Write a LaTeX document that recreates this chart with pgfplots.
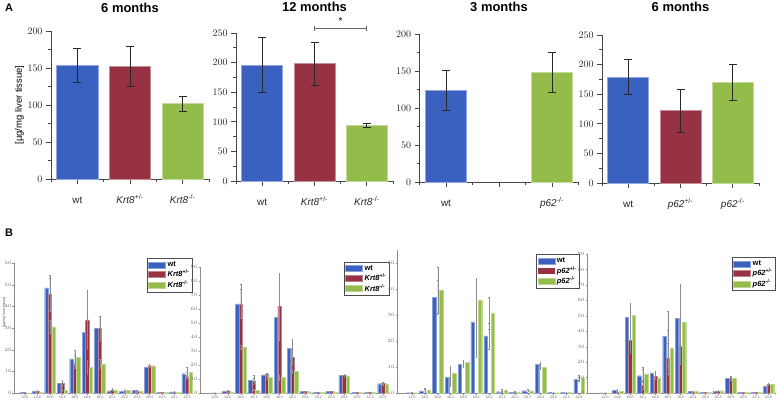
\documentclass[border=0pt]{standalone}
\usepackage{fontspec}
\setmainfont{Liberation Sans}
\usepackage{pgfplots}
\usepackage{pgfplotstable}
\pgfplotsset{compat=1.18}

\definecolor{wtc}{RGB}{58,96,192}
\definecolor{hetc}{RGB}{150,50,68}
\definecolor{koc}{RGB}{148,188,74}
\definecolor{axc}{RGB}{70,70,70}
\definecolor{errc}{RGB}{40,40,40}

% panel B data: value and error for wt, +/- and -/-
\pgfplotstableread{
x wt wte het hete ko koe
0 0.2 0.1 0.1 0.1 0.1 0.1
1 0.9 0.4 0.8 0.3 0.4 0.2
2 48.5 6.1 45.4 7.6 30.6 3.1
3 4.5 1.5 4.5 1.5 1.5 0.5
4 15.8 1.7 12.6 0.9 16.5 3.5
5 28.0 9.0 33.8 13.6 12.0 3.3
6 29.8 5.8 29.8 5.8 13.5 2.0
7 1.0 0.5 1.5 0.5 1.5 0.6
8 0.7 0.3 0.5 0.2 1.2 0.4
9 1.1 0.4 0.8 0.3 0.8 0.3
10 11.8 1.5 12.6 0.7 12.6 0.7
11 0.4 0.1 0.4 0.1 0.3 0.1
12 0.5 0.2 0.4 0.1 0.4 0.1
13 8.9 0.8 7.4 0.6 9.5 2.5
}\tabBa

\pgfplotstableread{
x wt wte het hete ko koe
0 0.1 0.1 0.1 0.1 0.1 0.1
1 1.4 0.5 1.2 0.4 0.5 0.2
2 63.5 14.2 63.5 10.5 32.7 1.3
3 9.0 3.8 8.3 2.1 2.1 0.4
4 13.0 1.0 13.2 0.8 11.0 0.8
5 54.0 23.0 61.6 23.7 11.1 1.9
6 32.0 6.4 25.4 5.6 15.6 1.4
7 1.2 0.3 1.2 0.3 0.9 0.3
8 0.3 0.1 0.5 0.2 0.7 0.2
9 1.0 0.3 1.0 0.3 0.8 0.2
10 12.6 0.8 12.6 0.8 12.1 0.6
11 0.4 0.1 0.4 0.1 0.3 0.1
12 0.4 0.1 0.3 0.1 0.3 0.1
13 6.6 0.7 6.9 0.5 6.3 0.5
}\tabBb

\pgfplotstableread{
x wt wte ko koe
0 0.1 0.05 0.1 0.05
1 0.8 0.7 1.0 1.0
2 36.8 6.5 39.7 8.8
3 6.0 3.2 7.7 2.8
4 11.0 1.0 11.9 0.9
5 27.4 13.6 35.6 8.4
6 22.0 5.0 30.8 6.2
7 0.5 0.3 1.0 0.4
8 0.3 0.1 0.4 0.2
9 0.9 0.6 0.9 0.6
10 11.0 1.0 10.0 1.0
11 0.3 0.1 0.1 0.1
12 0.3 0.1 0.2 0.1
13 5.3 0.7 5.9 0.9
}\tabBc

\pgfplotstableread{
x wt wte het hete ko koe
0 0.1 0.05 0.1 0.05 0.1 0.05
1 1.7 1.1 0.5 0.2 1.0 0.5
2 49.0 9.0 34.3 8.7 50.2 6.8
3 11.2 4.1 5.0 2.5 12.3 4.2
4 13.1 1.3 10.6 1.9 9.9 1.1
5 36.8 16.2 22.4 9.9 28.9 12.1
6 48.3 17.2 30.2 11.8 46.1 24.4
7 0.9 0.3 0.5 0.2 1.0 0.4
8 0.3 0.1 0.3 0.1 0.3 0.1
9 1.0 0.3 1.0 0.3 1.5 0.3
10 9.7 1.3 9.5 1.5 9.3 0.7
11 0.4 0.1 0.3 0.1 0.4 0.1
12 0.3 0.1 0.3 0.1 0.3 0.1
13 4.3 1.2 5.8 0.7 5.6 0.7
}\tabBd

\pgfplotsset{
  panelA/.style={
    scale only axis, anchor=south west,
    height=148bp,
    axis lines=left, axis line style={-, axc, line width=0.7pt},
    ymin=0, xmin=0.5, xmax=3.5,
    xtick={1,2,3}, minor xtick={0.5,1.5,2.5,3.5},
    minor y tick num=1,
    tick align=outside, major tick length=5bp, minor tick length=3bp,
    tick style={axc, line width=0.7pt},
    ticklabel style={font=\fontsize{10}{12}\selectfont, text=black!85},
    xticklabel style={yshift=-6bp, text height=10bp, text depth=2bp},
    title style={font=\fontsize{13}{15}\selectfont\bfseries, anchor=center},
    clip=false,
  },
  barA/.style={ybar, bar width=0.78, bar shift=0, fill=#1, draw=#1!55!white, line width=0.6pt,
    error bars/y dir=both, error bars/y explicit,
    error bars/error bar style={errc, line width=0.7pt},
    error bars/error mark options={rotate=90, mark size=4bp, errc, line width=0.7pt}},
  panelB/.style={
    scale only axis, anchor=south west,
    axis lines=left, axis line style={-, black!45, line width=0.4pt},
    ymin=0, xtick={0,...,13},
    xticklabels={12:0,14:0,16:0,16:1,18:0,18:1,18:2,20:1,20:2,20:3,20:4,20:5,22:1,22:6},
    tick align=outside, major tick length=1.5bp,
    tick style={black!45, line width=0.3pt},
    ticklabel style={font=\fontsize{3.6}{4}\selectfont, text=black!60, inner sep=0.8bp},
    clip=false,
    legend cell align=left,
    legend style={at={(1,1.04)}, anchor=north east, draw=black!70, line width=1pt,
      font=\fontsize{7.5}{8}\selectfont\bfseries, inner sep=1.2pt, row sep=-1.8pt,
      /tikz/every even column/.append style={column sep=1pt}},
    legend image code/.code={\fill[##1] (0bp,-3bp) rectangle (17bp,3bp);},
  },
  barB/.style={ybar, bar width=0.27, bar shift=#1, line width=0.3pt,
    error bars/y dir=both, error bars/y explicit,
    error bars/error bar style={black!45, line width=0.35pt},
    error bars/error mark options={rotate=90, mark size=0.7bp, black!45, line width=0.3pt}},
}

\begin{document}
\begin{tikzpicture}
\path[use as bounding box] (0,0) rectangle (778bp,400bp);

\node[font=\fontsize{11}{13}\selectfont\bfseries] at (9bp,392bp) {A};
\node[font=\fontsize{11}{13}\selectfont\bfseries] at (9bp,167bp) {B};

% ---- A1: 6 months, Krt8
\begin{axis}[panelA, at={(51bp,221bp)}, width=158bp,
  ymax=200, ytick={0,50,...,200},
  xticklabels={wt, \textit{Krt8}\textsuperscript{+/-}, \textit{Krt8}\textsuperscript{-/-}},
  title={6 months}, title style={at={(0.5,1)}, yshift=17bp},
  ylabel={[µg/mg liver tissue]},
  ylabel style={font=\fontsize{9.5}{11}\selectfont, at={(axis description cs:-0.2,0.5)}, anchor=center}]
\addplot[barA=wtc] coordinates {(1,153) +- (0,23)};
\addplot[barA=hetc] coordinates {(2,152) +- (0,27)};
\addplot[barA=koc] coordinates {(3,102) +- (0,10)};
\end{axis}

% ---- A2: 12 months, Krt8
\begin{axis}[panelA, at={(236bp,219bp)}, width=157bp,
  ymax=250, ytick={0,50,...,250},
  xticklabels={wt, \textit{Krt8}\textsuperscript{+/-}, \textit{Krt8}\textsuperscript{-/-}},
  title={12 months}, title style={at={(0.5,1)}, yshift=20bp}]
\addplot[barA=wtc] coordinates {(1,196) +- (0,47)};
\addplot[barA=hetc] coordinates {(2,198) +- (0,37)};
\addplot[barA=koc] coordinates {(3,94) +- (0,4)};
\draw[black!60, line width=0.9pt] (axis cs:2,253) -- (axis cs:2,261);
\draw[black!60, line width=0.9pt] (axis cs:3,253) -- (axis cs:3,261);
\draw[black!60, line width=0.9pt] (axis cs:2,257) -- (axis cs:3,257);
\node[font=\fontsize{10}{12}\selectfont] at (axis cs:2.5,270) {*};
\end{axis}

% ---- A3: 3 months, p62
\begin{axis}[panelA, at={(419.5bp,218bp)}, width=159bp,
  ymax=200, ytick={0,50,...,200},
  xticklabels={wt, , \textit{p62}\textsuperscript{-/-}},
  title={3 months}, title style={at={(0.5,1)}, yshift=21bp}]
\addplot[barA=wtc] coordinates {(1,124) +- (0,27)};
\addplot[barA=koc] coordinates {(3,148) +- (0,27)};
\end{axis}

% ---- A4: 6 months, p62
\begin{axis}[panelA, at={(602bp,217bp)}, width=157bp,
  ymax=250, ytick={0,50,...,250},
  xticklabels={wt, \textit{p62}\textsuperscript{+/-}, \textit{p62}\textsuperscript{-/-}},
  title={6 months}, title style={at={(0.5,1)}, yshift=22bp}]
\addplot[barA=wtc] coordinates {(1,179) +- (0,30)};
\addplot[barA=hetc] coordinates {(2,122) +- (0,36)};
\addplot[barA=koc] coordinates {(3,170) +- (0,31)};
\end{axis}

% ---- B1
\begin{axis}[panelB, at={(14bp,7bp)}, width=179bp, height=130bp,
  xmin=-0.88, xmax=13.48, ymax=60, ytick={0,10,...,60},
  ylabel={[µg/mg liver tissue]},
  ylabel style={font=\fontsize{3.6}{4}\selectfont, text=black!70,
    at={(axis description cs:-0.055,0.62)}, anchor=center}]
\addplot[barB=-0.28, fill=wtc, draw=wtc!60!white] table[x=x, y=wt, y error=wte] {\tabBa};
\addplot[barB=0, fill=hetc, draw=hetc!60!white] table[x=x, y=het, y error=hete] {\tabBa};
\addplot[barB=0.28, fill=koc, draw=koc!60!white] table[x=x, y=ko, y error=koe] {\tabBa};
\legend{wt, \textit{Krt8}\textsuperscript{+/-}, \textit{Krt8}\textsuperscript{-/-}}
\end{axis}

% ---- B2
\begin{axis}[panelB, at={(200bp,7bp)}, width=190bp, height=126.3bp,
  xmin=-1.16, xmax=13.54, ymax=90, ytick={0,10,...,90}]
\addplot[barB=-0.28, fill=wtc, draw=wtc!60!white] table[x=x, y=wt, y error=wte] {\tabBb};
\addplot[barB=0, fill=hetc, draw=hetc!60!white] table[x=x, y=het, y error=hete] {\tabBb};
\addplot[barB=0.28, fill=koc, draw=koc!60!white] table[x=x, y=ko, y error=koe] {\tabBb};
\legend{wt, \textit{Krt8}\textsuperscript{+/-}, \textit{Krt8}\textsuperscript{-/-}}
\end{axis}

% ---- B3
\begin{axis}[panelB, at={(397bp,7bp)}, width=186bp, height=143bp,
  xmin=-1.17, xmax=13.3, ymax=55, ytick={0,10,...,50},
  legend style={at={(0.985,0.97)}}]
\addplot[barB=-0.28, fill=wtc, draw=wtc!60!white] table[x=x, y=wt, y error=wte] {\tabBc};
\addlegendentry{wt}
\addlegendimage{fill=hetc, draw=none}
\addlegendentry{\textit{p62}\textsuperscript{+/-}}
\addplot[barB=0.28, fill=koc, draw=koc!60!white] table[x=x, y=ko, y error=koe] {\tabBc};
\addlegendentry{\textit{p62}\textsuperscript{-/-}}
\end{axis}

% ---- B4
\begin{axis}[panelB, at={(587bp,7bp)}, width=189bp, height=139bp,
  xmin=-1.44, xmax=13.6, ymax=90, ytick={0,10,...,90},
  legend style={at={(1,0.98)}}]
\addplot[barB=-0.28, fill=wtc, draw=wtc!60!white] table[x=x, y=wt, y error=wte] {\tabBd};
\addplot[barB=0, fill=hetc, draw=hetc!60!white] table[x=x, y=het, y error=hete] {\tabBd};
\addplot[barB=0.28, fill=koc, draw=koc!60!white] table[x=x, y=ko, y error=koe] {\tabBd};
\legend{wt, \textit{p62}\textsuperscript{+/-}, \textit{p62}\textsuperscript{-/-}}
\end{axis}
\end{tikzpicture}
\end{document}
